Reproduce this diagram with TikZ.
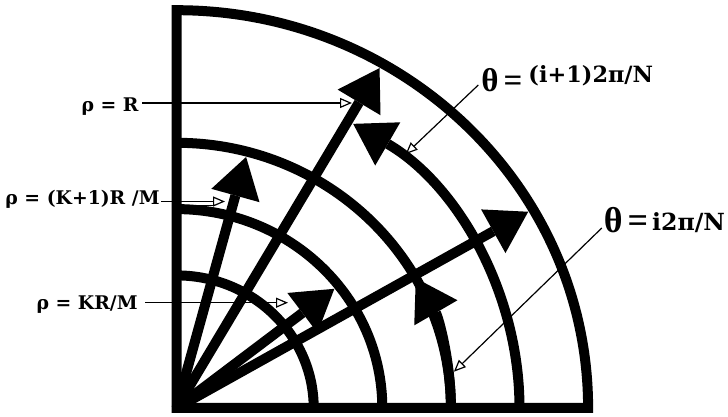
\documentclass[tikz,border=0pt]{standalone}
\usepackage{fontspec}
\usetikzlibrary{arrows.meta}
\newfontfamily\labfont{DejaVu Serif}
\newfontfamily\thfont{Liberation Serif}
\begin{document}
\begin{tikzpicture}[x=0.5pt,y=0.5pt,
  thickline/.style={line width=5pt},
  vec/.style={line width=5pt,-{Triangle[length=20pt,width=25pt,line width=0pt]}},
  leader/.style={line width=0.6pt,-{Triangle[open,length=6pt,width=5pt,line width=0.6pt]}},
  lab/.style={inner sep=0pt,font=\labfont\bfseries\fontsize{9.4}{11}\selectfont},
  thlab/.style={inner sep=0pt}
]
\useasboundingbox (0,0) rectangle (728,417);
\begin{scope}[shift={(176.5,9)},x=34.3pt,y=33.15pt]
  \coordinate (O) at (0,0);
  % boundary
  \draw[thickline,line join=miter] (O) -- (0,6) arc[start angle=90,end angle=0,radius=6] -- cycle;
  % full arcs
  \draw[thickline] (2,0) arc[start angle=0,end angle=90,radius=2];
  \draw[thickline] (3,0) arc[start angle=0,end angle=90,radius=3];
  \draw[thickline] (4,0) arc[start angle=0,end angle=90,radius=4];
  % arcs with arrowheads
  \draw[vec] (4,0) arc[start angle=0,end angle=29.3,radius=4];
  \draw[vec] (5,0) arc[start angle=0,end angle=59,radius=5];
  % vectors
  \coordinate (v1) at (75:3.92);
  \coordinate (v2) at (60:5.92);
  \coordinate (v3) at (38:2.92);
  \coordinate (v4) at (30:5.92);
  \draw[vec] (O) -- (v1);
  \draw[vec] (O) -- (v2);
  \draw[vec] (O) -- (v3);
  \draw[vec] (O) -- (v4);
  % leader targets on arcs
  \coordinate (tA) at (48.9:5.08);
  \coordinate (tB) at (7.7:4.08);
\end{scope}
% rho labels
\node[lab,anchor=base east] (rhoR) at (139,305.3) {ρ = R};
\node[lab,anchor=base east] (rhoK1) at (160,212) {ρ = (K+1)R /M};
\node[lab,anchor=base east] (rhoK) at (138,107) {ρ = KR/M};
\coordinate (tR) at (352,314);
\coordinate (tK1) at (225,215.5);
\coordinate (tK) at (288,114.3);
\coordinate (dblA) at (182,211.5);
\coordinate (dblB) at (214,211.5);
\draw[leader] ([xshift=1.5pt,yshift=4.35pt]rhoR.base east) -- (tR);
\draw[leader] ([xshift=0.5pt,yshift=1.75pt]rhoK1.base east) -- (tK1);
\draw[line width=0.6pt] (dblA) -- (dblB);
\draw[leader] ([xshift=3.5pt,yshift=3.65pt]rhoK.base east) -- (tK);
% theta labels
\node[thlab,anchor=base west] (thA) at (481,325.5)
  {{\thfont\bfseries\fontsize{16.5}{18}\selectfont θ\hspace{2.5pt}=\hspace{3pt}}\raisebox{4.3pt}{\labfont\bfseries\fontsize{11.2}{12}\selectfont (i+1)2π/N}};
\node[thlab,anchor=base west] (thB) at (603.5,184)
  {{\thfont\bfseries\fontsize{18}{20}\selectfont θ\hspace{2.5pt}=\hspace{2pt}}\raisebox{1pt}{\labfont\bfseries\fontsize{11.8}{14}\selectfont i2π/N}};
\draw[leader] ([xshift=-1.35pt,yshift=3.25pt]thA.base west) -- (tA);
\draw[leader] ([xshift=-0.85pt,yshift=2.5pt]thB.base west) -- (tB);
\end{tikzpicture}
\end{document}
